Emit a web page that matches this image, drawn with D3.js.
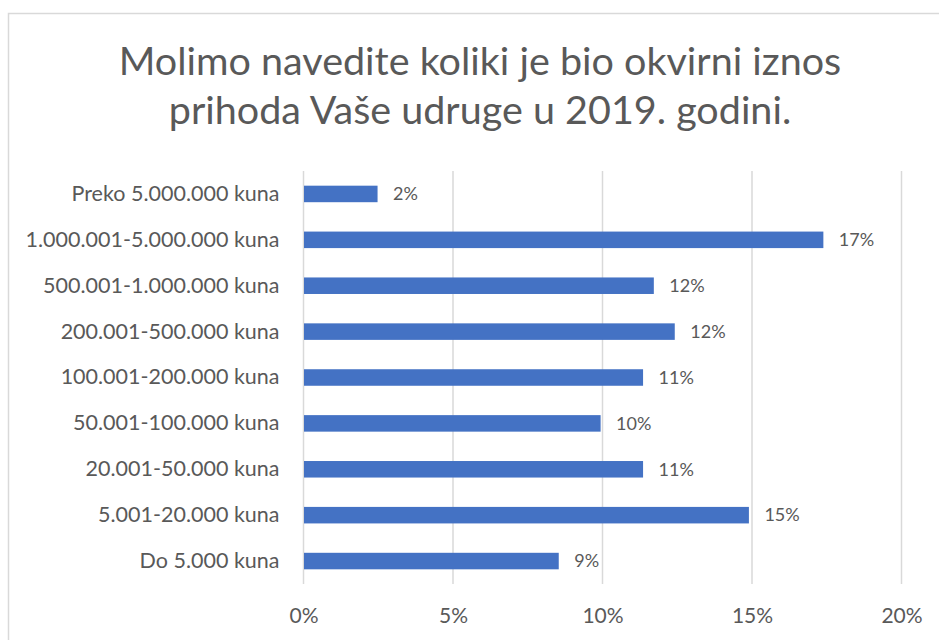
<!DOCTYPE html>
<html>
<head>
<meta charset="utf-8">
<script src="https://cdn.jsdelivr.net/npm/d3@7"></script>
<style>
  body { margin: 0; background: #fff; }
  text { font-family: Lato, "Open Sans", sans-serif; fill: #595959; }
</style>
</head>
<body>
<div id="chart"></div>
<script>
// data
var categories = [
  "Preko 5.000.000 kuna",
  "1.000.001-5.000.000 kuna",
  "500.001-1.000.000 kuna",
  "200.001-500.000 kuna",
  "100.001-200.000 kuna",
  "50.001-100.000 kuna",
  "20.001-50.000 kuna",
  "5.001-20.000 kuna",
  "Do 5.000 kuna"
];
var values = [0.0246, 0.1737, 0.1170, 0.1240, 0.1134, 0.0992, 0.1134, 0.1488, 0.0852];
var ticks = [0, 0.05, 0.10, 0.15, 0.20];
var titleLines = ["Molimo navedite koliki je bio okvirni iznos", "prihoda Vaše udruge u 2019. godini."];

var W = 939, H = 640;
var margin = {top: 171, left: 303.5, right: 37.5, bottom: 56};

var svg = d3.select("#chart").append("svg")
  .attr("width", W)
  .attr("height", H);

// chart border (only top and left visible in the crop)
svg.append("rect")
  .attr("x", 8.5).attr("y", 13.5)
  .attr("width", W + 10).attr("height", H + 10)
  .style("fill", "none")
  .style("stroke", "#d9d9d9")
  .style("stroke-width", 1.5);

// title
svg.append("g").selectAll("text")
  .data(titleLines)
  .enter().append("text")
  .attr("x", 480)
  .attr("y", function(d, i) { return 74.5 + i * 49; })
  .style("text-anchor", "middle")
  .style("font-size", "39.5px")
  .text(function(d) { return d; });

var width = W - margin.left - margin.right,
    height = H - margin.top - margin.bottom;

var g = svg.append("g")
  .attr("transform", "translate(" + margin.left + "," + margin.top + ")");

var x = d3.scaleLinear().domain([0, 0.20]).range([0, width]);
var y = d3.scaleBand().domain(categories).range([0, height]).paddingInner(0.64).paddingOuter(0.32);

// gridlines
g.selectAll(".grid")
  .data(ticks)
  .enter().append("line")
  .attr("class", "grid")
  .attr("x1", function(d) { return x(d); })
  .attr("x2", function(d) { return x(d); })
  .attr("y1", 0)
  .attr("y2", height)
  .style("stroke", "#d9d9d9")
  .style("stroke-width", 1.5);

// x axis labels
var xAxis = d3.axisBottom(x)
  .tickValues(ticks)
  .tickFormat(d3.format(".0%"))
  .tickSize(0)
  .tickPadding(24);

var xg = g.append("g")
  .attr("transform", "translate(0," + height + ")")
  .call(xAxis);
xg.select(".domain").remove();
xg.selectAll("text")
  .style("font-size", "21px")
  .style("fill", "#595959");

// category labels
var yAxis = d3.axisLeft(y).tickSize(0).tickPadding(24);
var yg = g.append("g").call(yAxis);
yg.select(".domain").remove();
yg.selectAll("text")
  .style("font-size", "21.5px")
  .style("fill", "#595959");

// bars
var rows = categories.map(function(c, i) { return {cat: c, val: values[i]}; });

g.selectAll(".bar")
  .data(rows)
  .enter().append("rect")
  .attr("class", "bar")
  .attr("x", x(0) + 0.5)
  .attr("y", function(d) { return y(d.cat); })
  .attr("width", function(d) { return x(d.val) - x(0); })
  .attr("height", y.bandwidth())
  .style("fill", "#4472c4");

// value labels
g.selectAll(".val")
  .data(rows)
  .enter().append("text")
  .attr("class", "val")
  .attr("x", function(d) { return x(d.val) + 16; })
  .attr("y", function(d) { return y(d.cat) + y.bandwidth() / 2; })
  .attr("dy", "0.35em")
  .style("font-size", "18px")
  .text(function(d) { return d3.format(".0%")(d.val); });
</script>
</body>
</html>
